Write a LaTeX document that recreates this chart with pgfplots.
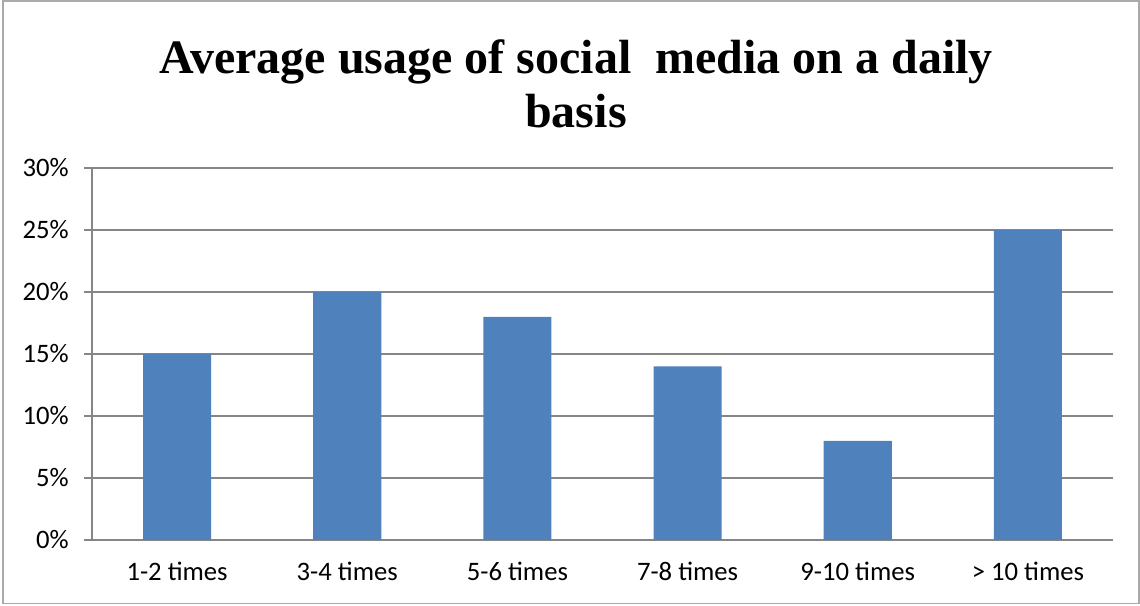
\documentclass[border=0pt]{standalone}
\usepackage{pgfplots}
\pgfplotsset{compat=1.18}
\usepackage{fontspec}
\setmainfont{Liberation Serif}
\newfontfamily\carlito{Carlito}
\definecolor{barblue}{HTML}{4F81BD}
\definecolor{gridgray}{HTML}{868686}
\begin{document}
\begin{tikzpicture}[x=0.75pt,y=0.75pt]
\useasboundingbox (0,0) rectangle (1140,606);
\draw[color=gridgray!70,line width=1.2pt] (3,2.5) rectangle (1139,605);
\node[anchor=base,font=\fontsize{36}{40}\selectfont\bfseries] at (576,606-74) {Average usage of social\ \ media on a daily};
\node[anchor=base,font=\fontsize{36}{40}\selectfont\bfseries] at (576,606-128) {basis};
\begin{axis}[
  at={(69pt,49.5pt)}, anchor=south west,
  scale only axis,
  width=765.75pt, height=279pt,
  xmin=-0.5, xmax=5.5,
  ymin=0, ymax=30,
  axis x line*=bottom, axis y line*=left,
  axis line style={gridgray,line width=1pt,-},
  ytick={0,5,...,30},
  yticklabel={\pgfmathprintnumber{\tick}\%},
  ymajorgrids,
  grid style={gridgray,line width=1pt},
  xtick={0,...,5},
  xticklabels={1-2 times,3-4 times,5-6 times,7-8 times,9-10 times,> 10 times},
  major x tick style={draw=none},
  extra x ticks={-0.5,0.5,1.5,2.5,3.5,4.5,5.5},
  extra x tick labels={},
  extra x tick style={major tick length=6pt, tick style={gridgray,line width=1pt}, tick align=outside},
  ytick style={gridgray,line width=1pt},
  major tick length=6pt,
  tick align=outside,
  tick label style={font=\carlito\fontsize{20}{24}\selectfont},
  /pgf/number format/assume math mode=true,
  xticklabel style={yshift=-7pt},
  yticklabel style={xshift=-8pt},
]
\addplot[ybar, bar width=0.4, fill=barblue, draw=none] coordinates {(0,15) (1,20) (2,18) (3,14) (4,8) (5,25)};
\end{axis}
\end{tikzpicture}
\end{document}
